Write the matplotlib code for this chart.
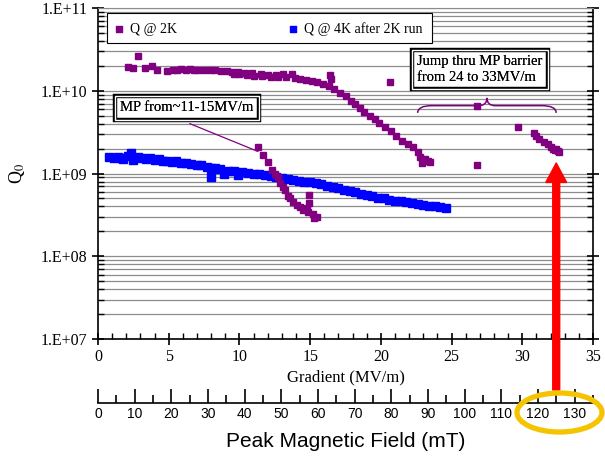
import numpy as np
import matplotlib
matplotlib.use("Agg")
import matplotlib.pyplot as plt
from matplotlib.patches import Rectangle, Ellipse, PathPatch
from matplotlib.path import Path
from matplotlib.ticker import FixedLocator, FuncFormatter, MultipleLocator, NullFormatter
from matplotlib.transforms import blended_transform_factory

plt.rcParams['font.family'] = ['Liberation Serif', 'DejaVu Serif']
plt.rcParams['mathtext.fontset'] = 'stix'

# Q @ 2K, high-Q branch (gradient MV/m, Q0)
grad_2k = [2.1, 2.5, 2.8, 3.3, 3.8, 4.2, 4.9, 5.3, 5.6, 5.9, 6.2, 6.5, 6.8, 7.1, 7.5,
           7.9, 8.3, 8.7, 9.1, 9.5, 9.6, 9.9, 10.0, 10.4, 10.5, 10.9, 11.0, 11.5, 11.6,
           12.0, 12.2, 12.6, 12.7, 13.1, 13.3, 13.7, 13.9, 14.3, 14.7, 15.1, 15.5, 15.9,
           16.3, 16.4, 16.5, 16.7, 17.1, 17.5, 17.9, 18.2, 18.5, 18.8, 19.2, 19.6, 19.9,
           20.3, 20.65, 20.7, 21.1, 21.5, 21.9, 22.3, 22.6, 22.8, 22.9, 23.1, 23.3, 23.5,
           26.8, 26.8, 29.7, 30.8, 31.0, 31.2, 31.5, 31.8, 32.0, 32.2, 32.3, 32.4, 32.5, 32.6]
q_2k = [1.95e10, 1.9e10, 2.6e10, 1.9e10, 2.0e10, 1.8e10, 1.75e10, 1.78e10, 1.8e10, 1.82e10,
        1.8e10, 1.82e10, 1.8e10, 1.78e10, 1.8e10, 1.78e10, 1.76e10, 1.75e10, 1.74e10, 1.7e10,
        1.6e10, 1.68e10, 1.58e10, 1.66e10, 1.55e10, 1.62e10, 1.52e10, 1.6e10, 1.5e10,
        1.55e10, 1.48e10, 1.56e10, 1.47e10, 1.6e10, 1.45e10, 1.6e10, 1.43e10, 1.4e10,
        1.36e10, 1.32e10, 1.27e10, 1.2e10, 1.13e10, 1.56e10, 1.4e10, 1.05e10, 9.5e9, 8.6e9,
        7.6e9, 6.9e9, 6.2e9, 5.6e9, 5.0e9, 4.5e9, 4.1e9, 3.6e9, 1.29e10, 3.3e9, 2.8e9,
        2.5e9, 2.3e9, 2.1e9, 1.8e9, 1.6e9, 1.35e9, 1.5e9, 1.42e9, 1.38e9,
        6.6e9, 1.27e9, 3.6e9, 3.1e9, 2.8e9, 2.6e9, 2.4e9, 2.25e9, 2.1e9, 2.0e9, 1.9e9,
        1.95e9, 1.85e9, 1.8e9]

# Q @ 2K, multipacting drop 11-15 MV/m
grad_mp = [11.3, 11.7, 12.0, 12.3, 12.5, 12.7, 12.9, 13.1, 13.2, 13.4, 13.6, 13.8, 14.1,
           14.3, 14.5, 14.85, 15.2, 15.5, 15.3, 14.9, 14.9, 14.8]
q_mp = [2.1e9, 1.66e9, 1.37e9, 1.1e9, 1.0e9, 9.1e8, 7.7e8, 6.9e8, 6.3e8, 5.4e8, 5.0e8,
        4.5e8, 4.2e8, 3.9e8, 3.6e8, 3.4e8, 3.2e8, 3.0e8, 2.9e8, 5.5e8, 4.4e8, 3.8e8]

# Q @ 4K after 2K run
grad_4k = [0.8, 1.1, 1.4, 1.6, 1.8, 2.1, 2.3, 2.5, 2.8, 3.1, 3.4, 3.7, 4.0, 4.3, 4.6, 4.9,
           5.2, 5.5, 5.9, 6.2, 6.6, 7.0, 7.3, 7.7, 8.0, 8.0, 8.3, 8.6, 8.9, 9.2, 9.6, 9.9,
           10.2, 10.6, 11.0, 11.4, 11.8, 12.2, 12.6, 13.0, 13.4, 13.8, 14.2, 14.6, 15.0,
           15.4, 15.8, 16.2, 16.6, 17.0, 17.4, 17.8, 18.2, 18.6, 19.0, 19.4, 19.8, 20.2,
           20.6, 21.0, 21.4, 21.8, 22.2, 22.6, 23.0, 23.4, 23.8, 24.2, 24.6]
q_4k = [1.58e9, 1.55e9, 1.6e9, 1.55e9, 1.5e9, 1.62e9, 1.75e9, 1.45e9, 1.58e9, 1.55e9,
        1.5e9, 1.52e9, 1.47e9, 1.48e9, 1.42e9, 1.43e9, 1.38e9, 1.4e9, 1.35e9, 1.33e9,
        1.3e9, 1.27e9, 1.25e9, 1.2e9, 1.17e9, 9.0e8, 1.15e9, 1.12e9, 1.0e9, 1.08e9, 1.06e9,
        0.97e9, 1.04e9, 1.02e9, 1.0e9, 0.98e9, 0.96e9, 0.93e9, 0.9e9, 0.88e9, 0.86e9,
        0.84e9, 0.82e9, 0.8e9, 0.78e9, 0.76e9, 0.74e9, 0.71e9, 0.69e9, 0.66e9, 0.64e9,
        0.61e9, 0.59e9, 0.57e9, 0.55e9, 0.53e9, 0.51e9, 0.5e9, 0.48e9, 0.47e9, 0.46e9,
        0.45e9, 0.44e9, 0.43e9, 0.42e9, 0.41e9, 0.4e9, 0.39e9, 0.38e9]

purple = '#800080'
blue = '#0000ff'

fig = plt.figure(figsize=(6.05, 4.58), dpi=100)
ax = fig.add_axes([98 / 605, 1 - 339 / 458, 495 / 605, 331 / 458])

ax.plot(grad_4k, q_4k, ls='none', marker='s', ms=5.3, color=blue, mec=blue, zorder=3)
ax.plot(grad_2k, q_2k, ls='none', marker='s', ms=4.5, color=purple, mec=purple, zorder=3)
ax.plot(grad_mp, q_mp, ls='none', marker='s', ms=4.5, color=purple, mec=purple, zorder=3)

ax.set_yscale('log')
ax.set_xlim(0, 35)
ax.set_ylim(1e7, 1e11)
ax.xaxis.set_major_locator(MultipleLocator(5))
ax.xaxis.set_minor_locator(MultipleLocator(1))
ax.yaxis.set_major_locator(FixedLocator([1e7, 1e8, 1e9, 1e10, 1e11]))
ax.yaxis.set_major_formatter(FuncFormatter(lambda v, p: '1.E+%02d' % round(np.log10(v))))
ax.yaxis.set_minor_formatter(NullFormatter())
ax.grid(True, which='both', axis='y', color='#8c8c8c', lw=0.9)
ax.tick_params(axis='both', which='major', direction='inout', length=8, width=1.2,
               labelsize=11.5, right=True)
ax.tick_params(axis='both', which='minor', direction='in', length=4, width=1, right=True)
ax.tick_params(axis='y', which='minor', left=True)
ax.tick_params(axis='x', which='both', top=False)
for s in ['left', 'bottom', 'right']:
    ax.spines[s].set_linewidth(1.2)
ax.spines['top'].set_color('#8c8c8c')
ax.set_xlabel('Gradient (MV/m)', fontsize=12, labelpad=3)
ax.set_ylabel('Q$_0$', fontsize=13, labelpad=10)

# legend box
ax.add_patch(Rectangle((0.018, 0.894), 0.657, 0.091, transform=ax.transAxes,
                       facecolor='white', edgecolor='black', lw=0.8, zorder=4))
h1 = ax.scatter([], [], marker='s', s=14, color=purple)
h2 = ax.scatter([], [], marker='s', s=14, color=blue)
leg = ax.legend([h1, h2], ['Q @ 2K', 'Q @ 4K after 2K run'], ncol=2, frameon=False,
                loc='upper left', bbox_to_anchor=(0.005, 0.995), fontsize=10,
                handlelength=0.8, handletextpad=0.4, columnspacing=8.0)
leg.set_zorder(5)

# annotations with double border
def boxed(x, y, txt, **kw):
    for ec, lw in [('black', 3.2), ('white', 1.0)]:
        ax.text(x, y, txt, fontsize=10.5, ha='center', va='center', zorder=6,
                bbox=dict(boxstyle='square,pad=0.35', fc='white' if ec == 'black' else 'none',
                          ec=ec, lw=lw), **kw)

ax.plot([6.5, 11.3], [4.0e9, 1.85e9], color=purple, lw=0.9, zorder=4)
boxed(6.3, 6.2e9, 'MP from~11-15MV/m')
boxed(27.0, 1.8e10, 'Jump thru MP barrier\nfrom 24 to 33MV/m', multialignment='left',
      linespacing=1.25)

# curly brace
bx0, bx1, bm = 22.6, 32.4, 27.5
yb, yh, yt = 5.4e9, 6.6e9, 8.2e9
verts = [(bx0, yb), (bx0, yh), (bx0 + 1.0, yh), (bm - 0.6, yh), (bm, yh), (bm, yt),
         (bm, yh), (bm + 0.6, yh), (bx1 - 1.0, yh), (bx1, yh), (bx1, yb)]
codes = [Path.MOVETO, Path.CURVE3, Path.CURVE3, Path.LINETO, Path.CURVE3, Path.CURVE3,
         Path.CURVE3, Path.CURVE3, Path.LINETO, Path.CURVE3, Path.CURVE3]
ax.add_patch(PathPatch(Path(verts, codes), fc='none', ec=purple, lw=1.1, zorder=4))

# peak magnetic field axis
ax2 = fig.add_axes([98 / 605, 1 - 403 / 458, 495 / 605, 0.0001])
ax2.set_xlim(0, 135)
ax2.set_yticks([])
for s in ['left', 'right', 'top']:
    ax2.spines[s].set_visible(False)
ax2.spines['bottom'].set_linewidth(1.2)
ax2.set_xticks(list(range(0, 131, 10)))
ax2.xaxis.set_minor_locator(FixedLocator(list(range(5, 136, 10))))
ax2.tick_params(axis='x', which='major', direction='in', length=10, width=1.2,
                labelsize=10, pad=3, labelfontfamily='Liberation Sans')
ax2.tick_params(axis='x', which='minor', direction='in', length=6, width=1.2)
ax2.set_xlabel('Peak Magnetic Field (mT)', fontsize=15, family='Liberation Sans', labelpad=8)

# red arrow and highlight ring
tr = blended_transform_factory(ax.transData, fig.transFigure)
ax.annotate('', xy=(32.4, 1.34e9), xycoords='data', xytext=(32.4, 1 - 390 / 458),
            textcoords=tr, annotation_clip=False,
            arrowprops=dict(facecolor='red', edgecolor='red', width=5, headwidth=15,
                            headlength=14, shrink=0), zorder=8)
fig.patches.append(Ellipse((559.5 / 605, 1 - 412.5 / 458), 85 / 605, 39 / 458,
                           transform=fig.transFigure, fill=False, ec='#f5c400', lw=3.8))

fig.savefig('out.png', dpi=100)
